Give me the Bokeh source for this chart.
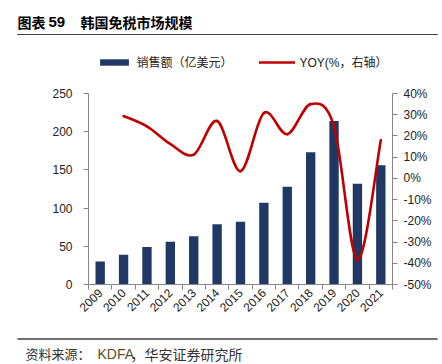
from math import pi
from bokeh.plotting import figure
from bokeh.layouts import column
from bokeh.models import (FactorRange, Range1d, LinearAxis, CategoricalAxis, FixedTicker,
                          PrintfTickFormatter, Legend, LegendItem, Label, ColumnDataSource,
                          BoxAnnotation)
from bokeh.embed import file_html
from bokeh.resources import INLINE

# ---------------- data ----------------
years = ["2009", "2010", "2011", "2012", "2013", "2014", "2015",
         "2016", "2017", "2018", "2019", "2020", "2021"]
sales = [30, 39, 49, 56, 63, 79, 82, 107, 128, 173, 214, 132, 156]   # 亿美元
yoy_years = ["2010", "2011", "2012", "2013", "2014", "2015",
             "2016", "2017", "2018", "2019", "2020", "2021"]
yoy = [29.4, 24.5, 16.2, 11.2, 27.0, 3.4, 30.8, 20.8, 35.0, 24.5, -38.3, 18.0]  # %
left_ticks = [0, 50, 100, 150, 200, 250]
right_ticks = [-50, -40, -30, -20, -10, 0, 10, 20, 30, 40]

title_prefix = "图表"
title_num = "59"
title_text = "韩国免税市场规模"
source_a = "资料来源："
source_b = "KDFA"
source_c = "，华安证券研究所"
bar_label = "销售额（亿美元）"
line_label = "YOY(%，右轴）"

# ---------------- styles ----------------
BAR = "#1F3864"
RED = "#C00000"
AXIS = "#868686"
TXT = "#222222"
RULE = "#404040"
LAT = "Liberation Sans, Noto Sans CJK SC"
CJK = "Noto Sans CJK SC"
PW = 442

# page layout (px): header strip 0-40, chart 40-336, footer 336-364
TOP_H, MAIN_H, BOT_H = 40, 296, 28
FRAME_TOP, FRAME_BOTTOM = 40, 284      # page y of chart frame
AX_TOP = 93                            # page y of the top of both value axes


def strip(h, y0):
    f = figure(width=PW, height=h, x_range=Range1d(0, PW), y_range=Range1d(y0 + h, y0),
               output_backend="svg", toolbar_location=None,
               x_axis_location=None, y_axis_location=None, min_border=0,
               frame_align=False)
    f.outline_line_color = None
    f.xgrid.visible = False
    f.ygrid.visible = False
    f.background_fill_color = "white"
    f.border_fill_color = "white"
    return f


def lab(f, X, Y, t, size, color="#000000", bold=False, font=CJK):
    f.add_layout(Label(x=X, y=Y, text=t, text_font=font, text_font_size=size,
                       text_font_style="bold" if bold else "normal",
                       text_color=color, text_baseline="middle", text_align="left"))


def rule(f, Y):
    f.add_layout(BoxAnnotation(left=17, right=437, top=Y - 0.6, bottom=Y + 0.6,
                               fill_color=RULE, fill_alpha=1, line_color=None))
    f.segment(x0=[17], y0=[Y], x1=[437], y1=[Y], line_color=RULE, line_width=1.2)


# ---------------- header ----------------
top = strip(TOP_H, 0)
lab(top, 17, 21, title_prefix, "14px", bold=True)
lab(top, 48, 21, title_num, "15px", bold=True, font="Liberation Sans")
lab(top, 80, 21, title_text, "14px", bold=True)
rule(top, 34)

# ---------------- footer ----------------
bot = strip(BOT_H, TOP_H + MAIN_H)
rule(bot, 338.5)
lab(bot, 25, 353, source_a, "13px", color="#333333")
lab(bot, 97, 353, source_b, "14px", color="#55501E", font="Liberation Sans")
lab(bot, 130, 353, source_c, "14px", color="#333333")

# ---------------- main chart ----------------
# value ranges extended upward so the legend sits inside the frame;
# the axes themselves are bounded to the ticked span.
k_left = (FRAME_BOTTOM - AX_TOP) / (left_ticks[-1] - left_ticks[0])
k_right = (FRAME_BOTTOM - AX_TOP) / (right_ticks[-1] - right_ticks[0])
y_top_left = left_ticks[0] + (FRAME_BOTTOM - FRAME_TOP) / k_left
y_top_right = right_ticks[0] + (FRAME_BOTTOM - FRAME_TOP) / k_right

p = figure(width=PW, height=MAIN_H, x_range=FactorRange(*years),
           y_range=Range1d(left_ticks[0], y_top_left),
           output_backend="svg", toolbar_location=None,
           x_axis_location=None, y_axis_location=None,
           min_border_left=88, min_border_right=50,
           min_border_top=0, min_border_bottom=TOP_H + MAIN_H - FRAME_BOTTOM,
           frame_align=False)
p.outline_line_color = None
p.xgrid.visible = False
p.ygrid.visible = False
p.background_fill_color = "white"
p.border_fill_color = "white"
p.extra_y_ranges = {"pct": Range1d(right_ticks[0], y_top_right)}

bars = p.vbar(x=years, top=sales, width=0.4, fill_color=BAR, line_color=None)

# smooth YOY line (Catmull-Rom style bezier through the data points),
# x in the factor range's synthetic coordinates (category centres)
xs = [years.index(y) + 0.5 for y in yoy_years]
pts = list(zip(xs, yoy))
n = len(pts)
bz = dict(x0=[], y0=[], x1=[], y1=[], cx0=[], cy0=[], cx1=[], cy1=[])
for i in range(n - 1):
    p0 = pts[max(i - 1, 0)]
    p1 = pts[i]
    p2 = pts[i + 1]
    p3 = pts[min(i + 2, n - 1)]
    bz["x0"].append(p1[0]); bz["y0"].append(p1[1])
    bz["x1"].append(p2[0]); bz["y1"].append(p2[1])
    bz["cx0"].append(p1[0] + (p2[0] - p0[0]) / 6.0)
    bz["cy0"].append(p1[1] + (p2[1] - p0[1]) / 6.0)
    bz["cx1"].append(p2[0] - (p3[0] - p1[0]) / 6.0)
    bz["cy1"].append(p2[1] - (p3[1] - p1[1]) / 6.0)
line = p.bezier(x0="x0", y0="y0", x1="x1", y1="y1", cx0="cx0", cy0="cy0",
                cx1="cx1", cy1="cy1", source=ColumnDataSource(bz),
                line_color=RED, line_width=2.6, line_cap="round",
                y_range_name="pct")


def style_axis(ax):
    ax.axis_line_color = AXIS
    ax.major_tick_line_color = AXIS
    ax.minor_tick_line_color = None
    ax.major_tick_in = 0
    ax.major_tick_out = 5
    ax.major_label_text_font = "Liberation Sans"
    ax.major_label_text_font_size = "12px"
    ax.major_label_text_color = TXT


yl = LinearAxis(ticker=FixedTicker(ticks=left_ticks), bounds=(left_ticks[0], left_ticks[-1]))
style_axis(yl)
yl.major_label_standoff = 11
p.add_layout(yl, "left")

yr = LinearAxis(y_range_name="pct", ticker=FixedTicker(ticks=right_ticks),
                bounds=(right_ticks[0], right_ticks[-1]),
                formatter=PrintfTickFormatter(format="%d%%"))
style_axis(yr)
yr.major_label_standoff = 6
p.add_layout(yr, "right")

# category-boundary ticks (synthetic coordinates 0..N), no labels
xb = LinearAxis(ticker=FixedTicker(ticks=list(range(len(years) + 1))))
style_axis(xb)
xb.major_label_text_font_size = "1px"
xb.major_label_text_color = None
xb.major_label_standoff = 0
p.add_layout(xb, "below")

xc = CategoricalAxis()
style_axis(xc)
xc.axis_line_color = None
xc.major_tick_line_color = None
xc.major_tick_out = 0
xc.major_label_standoff = 1
xc.major_label_orientation = pi / 4
p.add_layout(xc, "below")

legend = Legend(items=[LegendItem(label=bar_label, renderers=[bars]),
                       LegendItem(label=line_label, renderers=[line])],
                orientation="horizontal", location=(8.4, FRAME_BOTTOM - 70),
                glyph_width=36, glyph_height=8, label_height=14,
                label_standoff=4, spacing=27, padding=0, margin=0,
                label_text_font=LAT, label_text_font_size="12px",
                label_text_color=TXT, background_fill_alpha=0,
                border_line_color=None)
p.add_layout(legend)

layout = column(top, p, bot, spacing=0)
open("out.html", "w").write(file_html(layout, INLINE))
